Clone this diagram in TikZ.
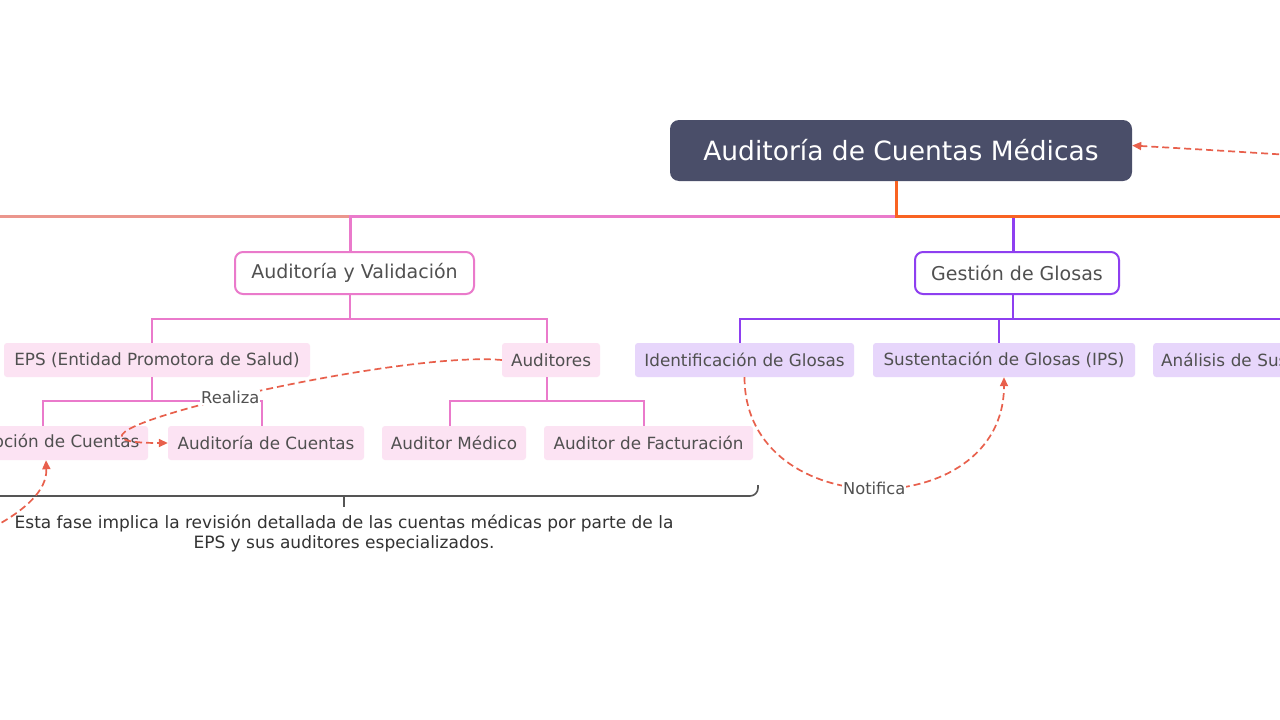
\documentclass[tikz,border=0pt]{standalone}
\usepackage{fontspec}
\setmainfont{DejaVu Sans}
\usetikzlibrary{arrows.meta}
\definecolor{rootfill}{HTML}{4A4E69}
\definecolor{pinkc}{HTML}{EA7ACB}
\definecolor{purplec}{HTML}{8E3FF0}
\definecolor{orangec}{HTML}{F96322}
\definecolor{salmonc}{HTML}{E8847A}
\definecolor{leafpink}{HTML}{FCE3F3}
\definecolor{leaflav}{HTML}{E7D6FB}
\definecolor{txt}{HTML}{505050}
\definecolor{relc}{HTML}{E8604C}
\definecolor{brk}{HTML}{555555}
\tikzset{
  rootbox/.style={fill=rootfill, rounded corners=9pt, text=white, font=\fontsize{26.5}{30}\selectfont, minimum width=462pt, minimum height=61pt, inner sep=0pt},
  subbox/.style={draw=#1, line width=2pt, fill=white, rounded corners=8pt, text=txt, font=\fontsize{19}{22}\selectfont, minimum height=42pt, inner sep=0pt},
  leafbox/.style={fill=#1, rounded corners=3pt, text=txt, font=\fontsize{16.8}{20}\selectfont, minimum height=34pt, inner sep=0pt},
  mainline/.style={line width=3pt, #1},
  subline/.style={line width=2pt, #1},
  rel/.style={relc, line width=1.7pt, dash pattern=on 7pt off 4pt, -{Triangle[length=9pt,width=8pt]}},
  rellabel/.style={fill=white, inner sep=1pt, text=txt, font=\fontsize{16.3}{19}\selectfont, solid},
}
\begin{document}
\begin{tikzpicture}[x=1pt,y=-1pt]
\useasboundingbox (0,0) rectangle (1280,720);
\clip (0,0) rectangle (1280,720);
\fill[white] (0,0) rectangle (1280,720);

% nodes
\node[rootbox] (root) at (901,150.5) {Auditoría de Cuentas Médicas};
\node[subbox=pinkc, minimum width=239pt] (av) at (354.5,273) {Auditoría y Validación};
\node[subbox=purplec, minimum width=204pt] (gg) at (1017,273) {Gestión de Glosas};

\node[leafbox=leafpink, minimum width=306pt] (eps) at (157,360) {EPS (Entidad Promotora de Salud)};
\node[leafbox=leafpink, minimum width=98pt] (aud) at (551,360) {Auditores};
\node[leafbox=leafpink, minimum width=204pt] (rc) at (46,443) {Recepción de Cuentas};
\node[leafbox=leafpink, minimum width=196pt] (adc) at (266,443) {Auditoría de Cuentas};
\node[leafbox=leafpink, minimum width=144pt] (am) at (454,443) {Auditor Médico};
\node[leafbox=leafpink, minimum width=209pt] (af) at (648.5,443) {Auditor de Facturación};

\node[leafbox=leaflav, minimum width=219pt] (ig) at (744.5,360) {Identificación de Glosas};
\node[leafbox=leaflav, minimum width=262pt] (sg) at (1004,360) {Sustentación de Glosas (IPS)};
\node[leafbox=leaflav, anchor=west, inner xsep=8pt, text width=284pt, align=left] (an) at (1153,360) {Análisis de Sustentación};

% main connectors
\coordinate (rs) at ([xshift=-5pt]root.south);
\coordinate (farleft) at (-200,300);
\coordinate (farright) at (1500,300);
\draw[mainline=salmonc, opacity=0.85] (rs) -- ++(0,35) -| (farleft);
\draw[mainline=pinkc] (rs) -- ++(0,35) -| ([xshift=-4.5pt]av.north);
\draw[mainline=purplec] (rs) -- ++(0,35) -| ([xshift=-4pt]gg.north);
\draw[mainline=orangec] (rs) -- ++(0,35) -| (farright);

% sub connectors
\draw[subline=pinkc] ([xshift=-4.5pt]av.south) -- ++(0,24) -| ([xshift=-5pt]eps.north);
\draw[subline=pinkc] ([xshift=-4.5pt]av.south) -- ++(0,24) -| ([xshift=-4pt]aud.north);
\draw[subline=pinkc] ([xshift=-5pt]eps.south) -- ++(0,24) -| ([xshift=-3.5pt]rc.north);
\draw[subline=pinkc] ([xshift=-5pt]eps.south) -- ++(0,24) -| ([xshift=-4pt]adc.north);
\draw[subline=pinkc] ([xshift=-4pt]aud.south) -- ++(0,24) -| ([xshift=-4pt]am.north);
\draw[subline=pinkc] ([xshift=-4pt]aud.south) -- ++(0,24) -| ([xshift=-4.5pt]af.north);
\draw[subline=purplec] ([xshift=-4pt]gg.south) -- ++(0,24) -| ([xshift=-4.5pt]ig.north);
\draw[subline=purplec] ([xshift=-4pt]gg.south) -- ++(0,24) -| ([xshift=-5pt]sg.north);
\draw[subline=purplec] ([xshift=-4pt]gg.south) -- ++(0,24) -| (an.north);

% bracket and note
\draw[brk, line width=1.6pt, rounded corners=8pt] (-70,485) |- (758,496) -- (758,485);
\draw[brk, line width=1.6pt] (344,496) -- (344,507);
\node[text=black!80, font=\fontsize{17}{20.5}\selectfont, align=center] (note) at (344,533.5)
  {Esta fase implica la revisión detallada de las cuentas médicas por parte de la\\EPS y sus auditores especializados.};

% relations
\coordinate (rightin) at (1290,155);
\draw[rel] (rightin) .. controls (1210,150) .. ([yshift=5pt]root.east);
\draw[rel] (aud.west) .. controls (391,350) and (0,443) .. (adc.west)
  node[rellabel, pos=0.5] {Realiza};
\coordinate (leftin) at (-8,528);
\draw[rel] (leftin) .. controls (35,505) and (47,485) .. (rc.south);
\draw[rel] (ig.south) .. controls (744.5,525) and (1004,525) .. (sg.south)
  node[rellabel, pos=0.5] {Notifica};
\end{tikzpicture}
\end{document}
